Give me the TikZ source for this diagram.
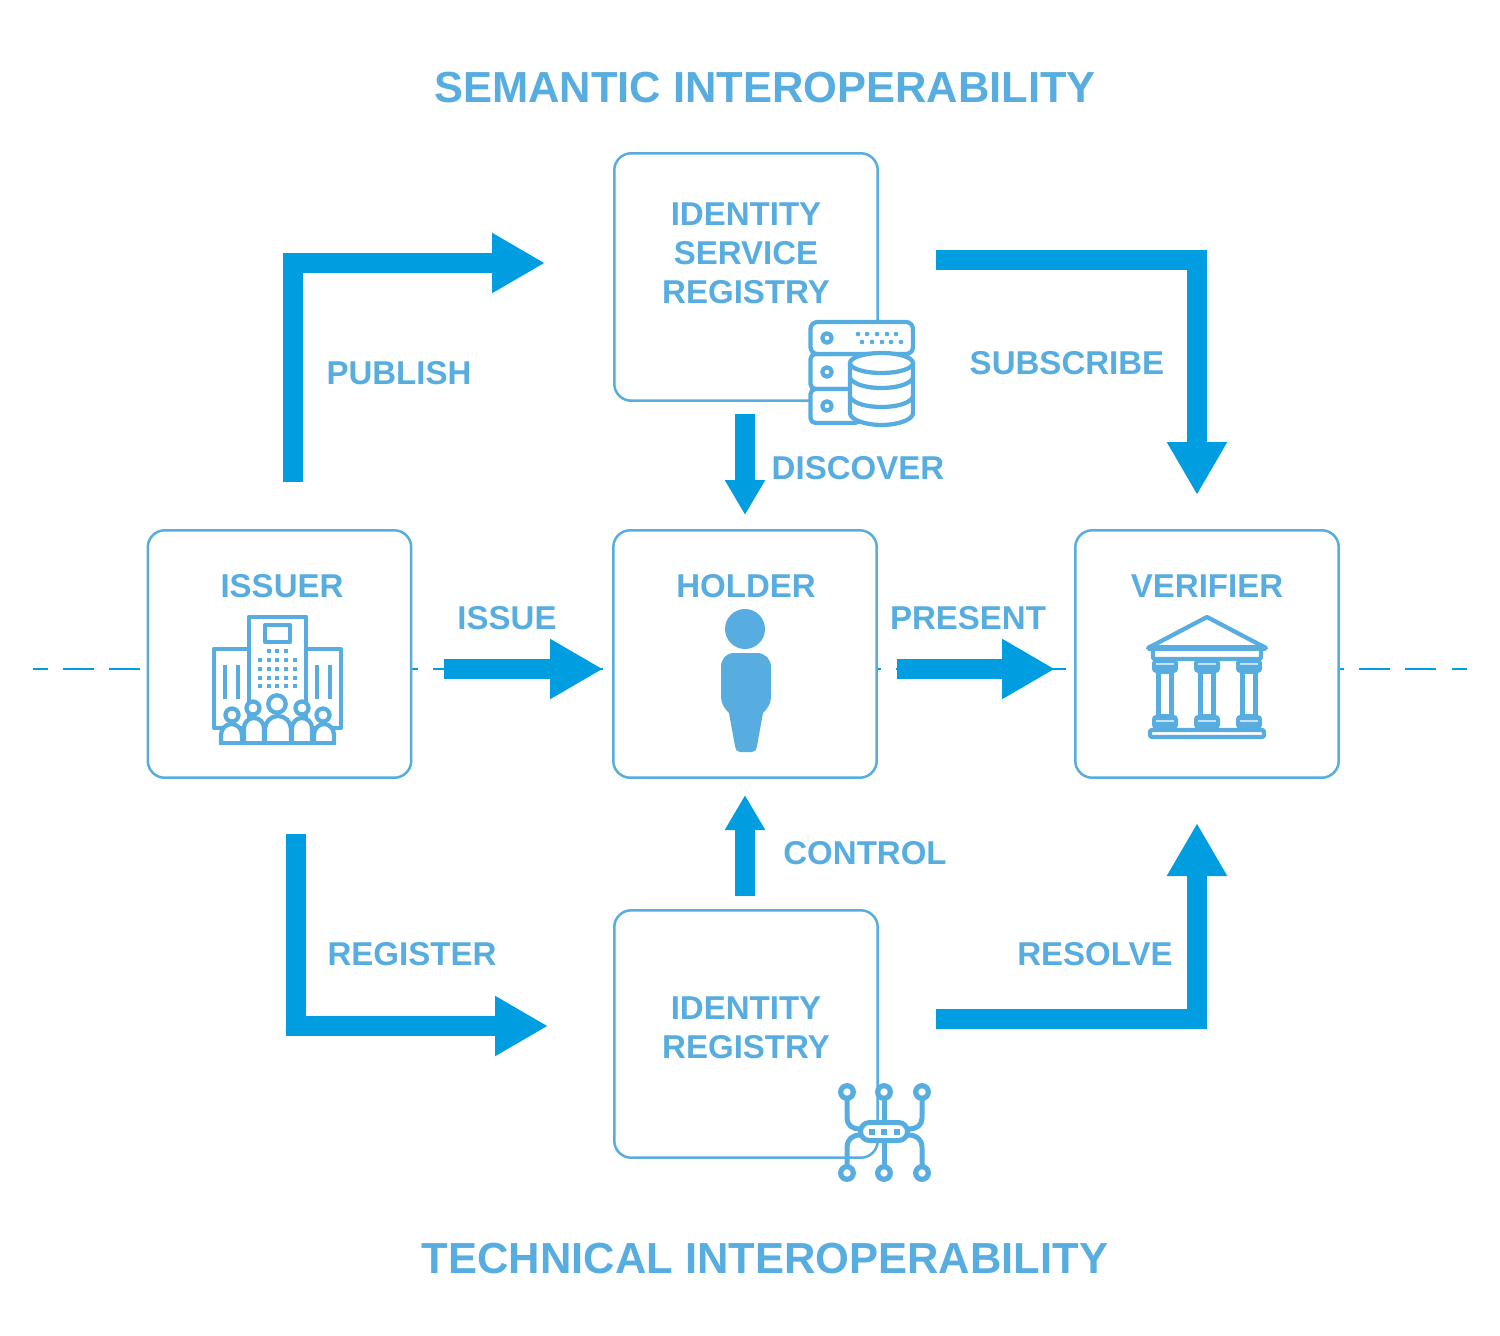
\documentclass[tikz,border=0pt]{standalone}
\usepackage{fontspec}
\setmainfont{Liberation Sans}
\usetikzlibrary{arrows.meta}
\definecolor{paleblue}{HTML}{58ADE0}
\definecolor{flowblue}{HTML}{009EE0}
\tikzset{
	x=0.02cm,y=-0.02cm,
	box/.style={draw=paleblue,fill=white,line width=0.05cm,rounded corners=0.34cm,minimum width=5.27cm,minimum height=4.95cm,inner sep=0pt},
	lbl/.style={text=paleblue,font=\fontsize{18.8}{22.3}\selectfont\bfseries,align=center,inner sep=0pt},
	heading/.style={text=paleblue,font=\fontsize{24.75}{28}\selectfont\bfseries,inner sep=0pt},
	bigflow/.style={draw=flowblue,line width=0.4cm,-{Triangle[length=1.06cm,width=1.13cm]}},
	midflow/.style={draw=flowblue,line width=0.4cm,-{Triangle[length=0.7cm,width=0.76cm]}},
	wire/.style={draw=paleblue,line width=0.1cm,line join=round},
	thinicon/.style={draw=paleblue,line width=0.085cm,fill=white,line join=round},
	cutline/.style={draw=flowblue,line width=0.05cm,dash pattern=on 0.62cm off 0.306cm},
}
\begin{document}
\begin{tikzpicture}
	\useasboundingbox (0,0) rectangle (1500,1335);
	\coordinate (dashleft) at (33,669);
	\coordinate (dashright) at (1467,669);
	\draw[cutline,dash phase=0.326cm] (dashleft) -- (dashright);

	\node[box] (issuer) at (279.5,654) {};
	\node[box] (holder) at (745,654) {};
	\node[box] (verifier) at (1207,654) {};
	\node[box] (service) at (746,277) {};
	\node[box] (registry) at (746,1034) {};

	\node[heading] (semantic) at (765,88) {SEMANTIC INTEROPERABILITY};
	\node[heading] (technical) at (765,1259) {TECHNICAL INTEROPERABILITY};
	\node[lbl] (servicetext) at (746,253) {IDENTITY\\SERVICE\\REGISTRY};
	\node[lbl] (registrytext) at (746,1027.5) {IDENTITY\\REGISTRY};
	\node[lbl] (issuertext) at (282,586) {ISSUER};
	\node[lbl] (holdertext) at (746,586) {HOLDER};
	\node[lbl] (verifiertext) at (1207,586) {VERIFIER};
	\node[lbl] (publish) at (399,373) {PUBLISH};
	\node[lbl] (subscribe) at (1067,363) {SUBSCRIBE};
	\node[lbl] (discover) at (858,468) {DISCOVER};
	\node[lbl] (issue) at (507,618) {ISSUE};
	\node[lbl] (present) at (968,618) {PRESENT};
	\node[lbl] (control) at (865,853) {CONTROL};
	\node[lbl] (register) at (412,954) {REGISTER};
	\node[lbl] (resolve) at (1095,954) {RESOLVE};

	\coordinate (pubfrom) at (293,482);
	\coordinate (pubto) at (545,263);
	\coordinate (subfrom) at (936,259.5);
	\coordinate (subto) at (1197,495);
	\coordinate (regfrom) at (296,834);
	\coordinate (regto) at (548,1026);
	\coordinate (resfrom) at (936,1019);
	\coordinate (resto) at (1197,823);
	\coordinate (issfrom) at (444,669);
	\coordinate (issto) at (603,669);
	\coordinate (prefrom) at (897,669);
	\coordinate (preto) at (1055,669);
	\coordinate (disfrom) at (745,414);
	\coordinate (disto) at (745,515);
	\coordinate (confrom) at (745,896);
	\coordinate (conto) at (745,795);

	\draw[bigflow] (pubfrom) |- (pubto);
	\draw[bigflow] (subfrom) -| (subto);
	\draw[bigflow] (regfrom) |- (regto);
	\draw[bigflow] (resfrom) -| (resto);
	\draw[bigflow] (issfrom) -- (issto);
	\draw[bigflow] (prefrom) -- (preto);
	\draw[midflow] (disfrom) -- (disto);
	\draw[midflow] (confrom) -- (conto);

	\draw[thinicon] (214,649) rectangle (249,728);
	\draw[thinicon] (306,649) rectangle (341,728);
	\draw[thinicon] (249,617) rectangle (306,730);
	\draw[thinicon] (265,625) rectangle (290,642);
	\foreach \px in {225,238,317,330}
		\draw[thinicon] (\px,665) -- (\px,699);
	\foreach \px in {269,277,286}
		\fill[paleblue] (\px-2.4,648.6) rectangle (\px+2.4,653.4);
	\foreach \px in {260,269,277,286,295}
		\foreach \py in {660,669,678,686}
			\fill[paleblue] (\px-2.4,\py-2.4) rectangle (\px+2.4,\py+2.4);
	\draw[thinicon] (221,743) -- (221,735) arc[start angle=180,end angle=360,x radius=10.5,y radius=11] -- (242,743);
	\draw[thinicon] (314,743) -- (314,735) arc[start angle=180,end angle=360,x radius=10,y radius=11] -- (334,743);
	\draw[thinicon] (244,743) -- (244,728) arc[start angle=180,end angle=360,x radius=10,y radius=10] -- (264,743);
	\draw[thinicon] (292,743) -- (292,728) arc[start angle=180,end angle=360,x radius=10,y radius=10] -- (312,743);
	\draw[thinicon] (265,743) -- (265,729) arc[start angle=180,end angle=360,x radius=13,y radius=13] -- (291,743);
	\draw[thinicon] (232,715) circle[radius=6.5];
	\draw[thinicon] (323,715) circle[radius=6.5];
	\draw[thinicon] (253,708) circle[radius=6.5];
	\draw[thinicon] (302,708) circle[radius=6.5];
	\draw[thinicon] (277,704) circle[radius=8.7];
	\draw[thinicon] (219,743) -- (336,743);

	\fill[paleblue] (745,629) circle[radius=20];
	\fill[paleblue] (734,653) -- (757,653) .. controls (765,653) and (771,659) .. (771,667) -- (771,697) .. controls (771,704) and (767,709) .. (763,713) -- (757,746) .. controls (756,750) and (755,752) .. (752,752) -- (740,752) .. controls (737,752) and (736,750) .. (735,746) -- (729,713) .. controls (725,709) and (721,704) .. (721,697) -- (721,667) .. controls (721,659) and (726,653) .. (734,653) -- cycle;

	\draw[thinicon,line cap=round] (1148,648) -- (1207,617) -- (1266,648) -- cycle;
	\draw[thinicon,rounded corners=0.04cm] (1153,648) rectangle (1261,659);
	\draw[thinicon,line width=0.11cm] (1148,648) -- (1266,648);
	\draw[thinicon,rounded corners=0.04cm] (1150,730) rectangle (1264,737);
	\foreach \px in {1165,1207,1249}{
		\draw[thinicon] (\px-6.5,672) rectangle (\px+6.5,716);
		\fill[paleblue,rounded corners=0.08cm] (\px-13,659) rectangle (\px+13,673);
		\fill[paleblue,rounded corners=0.08cm] (\px-13,715) rectangle (\px+13,729);
		\draw[paleblue!35,line width=0.03cm] (\px-9,664) -- (\px+9,664);
		\draw[paleblue!35,line width=0.03cm] (\px-9,721) -- (\px+9,721);
	}

	\draw[thinicon,rounded corners=0.1cm] (810.5,354) rectangle (860,389);
	\draw[thinicon,rounded corners=0.1cm] (810.5,389) rectangle (860,423);
	\draw[thinicon,rounded corners=0.14cm] (810.5,322) rectangle (913,354);
	\draw[thinicon] (827,338) circle[radius=4.7];
	\draw[thinicon] (827,372) circle[radius=4.7];
	\draw[thinicon] (827,406) circle[radius=4.7];
	\foreach \px in {858,867,877,887,896}
		\fill[paleblue] (\px,334) circle[radius=2.3];
	\foreach \px in {862,872,882,891,901}
		\fill[paleblue] (\px,342) circle[radius=2.3];
	\draw[thinicon] (850,363) -- (850,413) .. controls (850,420) and (866,425) .. (881.5,425) .. controls (897,425) and (913,420) .. (913,413) -- (913,363);
	\draw[thinicon] (881.5,363) ellipse[x radius=31.5,y radius=10];
	\draw[thinicon,fill=none] (850,378) .. controls (854,385) and (868,388) .. (881.5,388) .. controls (895,388) and (909,385) .. (913,378);
	\draw[thinicon,fill=none] (850,397) .. controls (854,404) and (868,407) .. (881.5,407) .. controls (895,407) and (909,404) .. (913,397);

	\draw[wire] (847,1099) -- (847,1118) .. controls (847,1125) and (852,1129) .. (860,1129);
	\draw[wire] (922,1099) -- (922,1118) .. controls (922,1125) and (917,1129) .. (908,1129);
	\draw[wire] (847,1166) -- (847,1147) .. controls (847,1140) and (852,1135) .. (860,1135);
	\draw[wire] (922,1166) -- (922,1147) .. controls (922,1140) and (917,1135) .. (908,1135);
	\draw[wire] (884,1099) -- (884,1122);
	\draw[wire] (884,1141) -- (884,1166);
	\draw[thinicon,line width=0.1cm,rounded corners=0.18cm] (860.5,1122.5) rectangle (907.5,1140.5);
	\foreach \px in {872,884,897}
		\fill[paleblue] (\px-3,1129) rectangle (\px+3,1135);
	\foreach \px in {847,884,922}{
		\draw[thinicon,line width=0.105cm] (\px,1092) circle[radius=6.3];
		\draw[thinicon,line width=0.105cm] (\px,1173) circle[radius=6.3];
	}
\end{tikzpicture}
\end{document}
